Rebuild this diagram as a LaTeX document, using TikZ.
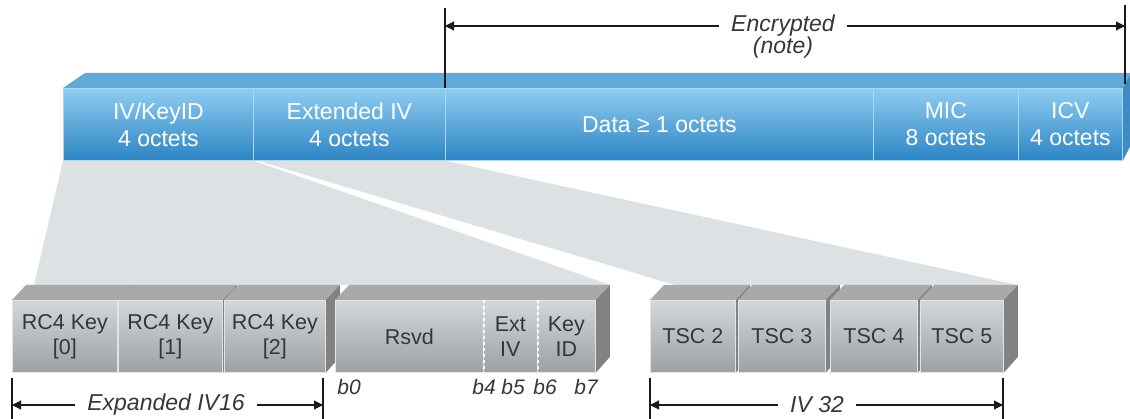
\documentclass[tikz,border=0pt]{standalone}
\usepackage{fontspec}
\setmainfont{Liberation Sans}
\usetikzlibrary{positioning,arrows.meta,calc,backgrounds}
\definecolor{barT}{HTML}{8FCDF0}
\definecolor{barB}{HTML}{2C84C4}
\definecolor{baredge}{HTML}{A9D8F3}
\definecolor{bartopc}{HTML}{62A8D8}
\definecolor{barsidec}{HTML}{3F8CC4}
\definecolor{cellT}{HTML}{D3D7DA}
\definecolor{cellB}{HTML}{9DA1A4}
\definecolor{celledge}{HTML}{E2E5E7}
\definecolor{celltopc}{HTML}{A7A9AB}
\definecolor{cellsidec}{HTML}{808284}
\definecolor{fanc}{HTML}{DCE1E4}
\definecolor{txtgray}{HTML}{363636}
\definecolor{ink}{HTML}{1A1A1A}
\tikzset{
  field/.style={draw=baredge,line width=0.8pt,top color=barT,bottom color=barB,text=white,
    align=center,anchor=north west,minimum height=72,inner sep=0pt,font=\fontsize{23}{27}\selectfont},
  cell/.style={draw=celledge,line width=0.8pt,top color=cellT,bottom color=cellB,text=txtgray,
    align=center,anchor=north west,minimum height=72,inner sep=0pt,font=\fontsize{21.5}{25}\selectfont},
  bartop/.style={fill=bartopc},
  barside/.style={fill=barsidec},
  celltop/.style={fill=celltopc},
  cellside/.style={fill=cellsidec},
  fan/.style={fill=fanc},
  tick/.style={draw=ink,line width=1.2pt},
  dimarrow/.style={-{Triangle[length=9pt,width=9pt]},draw=ink,line width=1.1pt},
  dimlabel/.style={font=\fontsize{23}{27}\selectfont\itshape,text=txtgray,inner xsep=12pt,inner ysep=0pt},
  bitlabel/.style={font=\fontsize{21}{25}\selectfont\itshape,text=txtgray,inner sep=0pt},
  sepline/.style={draw=white,line width=2.2pt,dash pattern=on 3pt off 3pt},
}
\begin{document}
\begin{tikzpicture}[x=1pt,y=-1pt]
\useasboundingbox (0,0) rectangle (1130,419);

% ==== frame fields (top bar) ====
\node[field,minimum width=190] (ivkey) at (63,88)  {IV/KeyID\\4 octets};
\node[field,minimum width=192] (extiv) at (253,88) {Extended IV\\4 octets};
\node[field,minimum width=428] (data)  at (445,88) {Data ≥ 1 octets};
\node[field,minimum width=145] (mic)   at (873,88) {MIC\\8 octets};
\node[field,minimum width=104] (icv)   at (1018,88) {ICV\\4 octets};

% ==== expanded IV16 (bottom left) ====
\node[cell,minimum width=105] (k0) at (12,300)  {RC4 Key\\{[0]}};
\node[cell,minimum width=104] (k1) at (118,300) {RC4 Key\\{[1]}};
\node[cell,minimum width=101] (k2) at (224,300) {RC4 Key\\{[2]}};
\node[cell,minimum width=148] (rsvd)  at (335,300) {Rsvd};
\node[cell,minimum width=54]  (extb)  at (483,300) {Ext\\IV};
\node[cell,minimum width=58]  (keyid) at (537,300) {Key\\ID};

% ==== IV32 (bottom right) ====
\node[cell,minimum width=85] (tsc2) at (650,300) {TSC 2};
\node[cell,minimum width=87] (tsc3) at (738,300) {TSC 3};
\node[cell,minimum width=87] (tsc4) at (830,300) {TSC 4};
\node[cell,minimum width=83] (tsc5) at (920,300) {TSC 5};

% ==== fans and 3d faces ====
\begin{scope}[on background layer]
  \fill[fan] (ivkey.south west) -- (ivkey.south east) -- ($(keyid.north east)+(15,-15)$)
    -- ($(k0.north west)+(22,-15)$) -- cycle;
  \fill[fan] ($(extiv.south west)+(5,0)$) -- (extiv.south east) -- ($(tsc5.north east)+(14,-15)$)
    -- ($(tsc2.north west)+(25,-15)$) -- cycle;
  \fill[bartop] (ivkey.north west) -- ++(22,-15) -- ($(icv.north east)+(8,-15)$) -- (icv.north east) -- cycle;
  \fill[barside] (icv.north east) -- ++(8,-15) -- ++(0,72) -- (icv.south east) -- cycle;
  \foreach \c in {k0,k1,k2,tsc2,tsc3,tsc4,tsc5}{
    \fill[celltop] (\c.north west) -- ++(14,-15) -- ($(\c.north east)+(14,-15)$) -- (\c.north east) -- cycle;
    \fill[cellside] (\c.north east) -- ++(14,-15) -- ++(0,72) -- (\c.south east) -- cycle;
  }
  \fill[celltop] (rsvd.north west) -- ++(14,-15) -- ($(keyid.north east)+(14,-15)$) -- (keyid.north east) -- cycle;
  \fill[cellside] (keyid.north east) -- ++(14,-15) -- ++(0,72) -- (keyid.south east) -- cycle;
\end{scope}

% ==== bit separators ====
\draw[sepline] (rsvd.north east) -- (rsvd.south east);
\draw[sepline] (extb.north east) -- (extb.south east);
\foreach \b/\x in {0/349,4/484,5/513,6/545,7/586}
  \node[bitlabel] (b\b) at (\x,387) {b\b};

% ==== encrypted span ====
\coordinate (encL) at (445,8);
\coordinate (encR) at (1125,5);
\coordinate (encRb) at (1125,84);
\draw[tick] (encL) -- (data.north west);
\draw[tick] (encR) -- (encRb);
\node[dimlabel] (enc) at (783,26) {Encrypted};
\node[dimlabel] (note) at (783,48) {(note)};
\draw[dimarrow] (enc.west) -- (enc.west -| encL);
\draw[dimarrow] (enc.east) -- (enc.east -| encR);

% ==== bottom spans ====
\coordinate (x16L) at (12,378);
\coordinate (x16R) at (323,378);
\coordinate (x32L) at (650,378);
\coordinate (x32R) at (1003,378);
\foreach \p in {x16L,x16R,x32L,x32R}
  \draw[tick] (\p) -- ++(0,41);
\node[dimlabel] (x16) at (166,405) {Expanded IV16};
\node[dimlabel] (x32) at (817,405) {IV 32};
\draw[dimarrow] (x16.west) -- (x16.west -| x16L);
\draw[dimarrow] (x16.east) -- (x16.east -| x16R);
\draw[dimarrow] (x32.west) -- (x32.west -| x32L);
\draw[dimarrow] (x32.east) -- (x32.east -| x32R);

\end{tikzpicture}
\end{document}
